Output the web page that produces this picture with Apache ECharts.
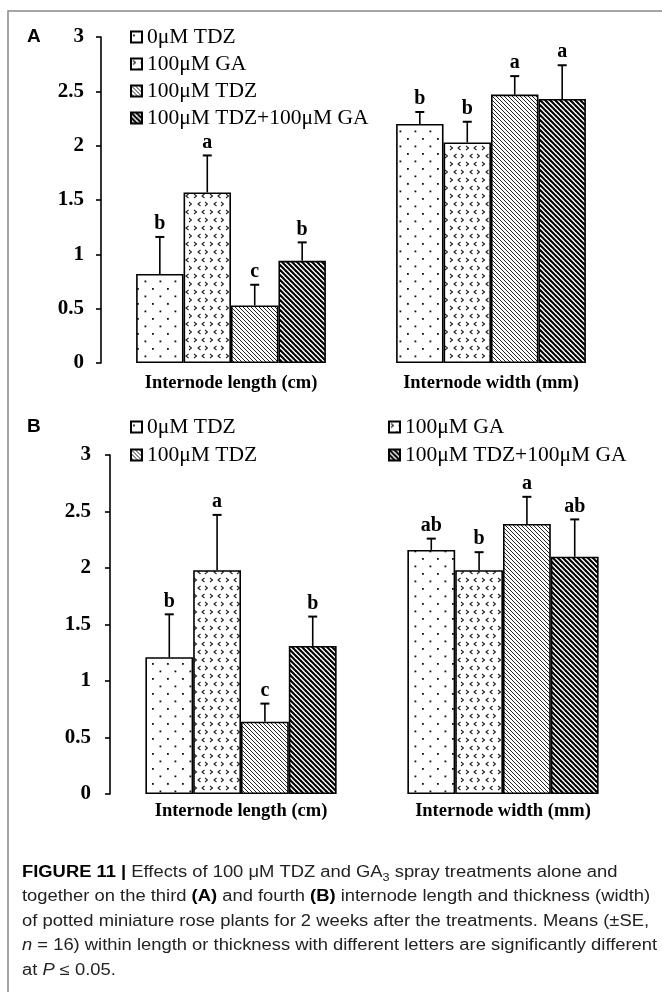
<!DOCTYPE html>
<html><head><meta charset="utf-8">
<script src="https://cdn.jsdelivr.net/npm/echarts@6/dist/echarts.min.js"></script>
<style>html,body{margin:0;padding:0;background:#fff}#c{width:662px;height:992px}</style>
</head><body><div id="c"></div>
<script>
// ---------------- DATA ----------------
const categories = ['Internode length (cm)', 'Internode width (mm)'];
const treatments = ['0μM TDZ', '100μM GA', '100μM TDZ', '100μM TDZ+100μM GA'];
// Panel A (third internode): per treatment [length, width]
const meanA = [[0.82, 2.20], [1.57, 2.03], [0.53, 2.47], [0.94, 2.43]];
const seA = [[0.34, 0.11], [0.34, 0.19], [0.19, 0.17], [0.17, 0.31]];
const letterA = [['b', 'b'], ['a', 'b'], ['c', 'a'], ['b', 'a']];
// Panel B (fourth internode)
const meanB = [[1.21, 2.16], [1.98, 1.98], [0.64, 2.39], [1.31, 2.10]];
const seB = [[0.38, 0.10], [0.49, 0.16], [0.16, 0.24], [0.26, 0.33]];
const letterB = [['b', 'ab'], ['a', 'b'], ['c', 'a'], ['b', 'ab']];
const yMin = 0, yMax = 3, yStep = 0.5;

// ---------------- PATTERNS ----------------
function mk(w, h, draw) {
  const c = document.createElement('canvas'); c.width = w; c.height = h;
  const g = c.getContext('2d'); g.fillStyle = '#fff'; g.fillRect(0, 0, w, h); draw(g); return c;
}
const patDots = mk(15, 15, g => {
  g.fillStyle = '#111';
  g.fillRect(2, 3, 1.8, 1.8); g.fillRect(9.5, 10.5, 1.8, 1.8);
});
const patChev = mk(16, 16, g => {
  g.strokeStyle = '#222'; g.lineWidth = 1.1;
  function lt(x, y) { g.beginPath(); g.moveTo(x + 2.5, y - 2); g.lineTo(x, y); g.lineTo(x + 2.5, y + 2); g.stroke(); }
  function gt(x, y) { g.beginPath(); g.moveTo(x, y - 2); g.lineTo(x + 2.5, y); g.lineTo(x, y + 2); g.stroke(); }
  gt(2, 4); lt(10, 4); lt(6, 12); gt(13, 12);
});
function diag(s, lw, col) {
  return mk(s, s, g => {
    g.strokeStyle = col; g.lineWidth = lw;
    [-s, 0, s].forEach(k => { g.beginPath(); g.moveTo(-1, -1 + k); g.lineTo(s + 1, s + 1 + k); g.stroke(); });
  });
}
const patFine = diag(4, 1, '#222');
const patDark = diag(5, 2.1, '#000');
const patterns = [patDots, patChev, patFine, patDark];

// ---------------- BUILD ----------------
const GAP = 0.27;
const serif = 'Liberation Serif';
function barSeries(means, gi) {
  return means.map((m, k) => ({
    name: treatments[k], type: 'bar', xAxisIndex: gi, yAxisIndex: gi,
    data: m, barGap: '0%', barCategoryGap: (GAP * 100) + '%',
    itemStyle: { color: { image: patterns[k], repeat: 'repeat' }, borderColor: '#000', borderWidth: 1.6 },
    emphasis: { disabled: true }, animation: false
  }));
}
function errSeries(means, ses, letters, gi) {
  const data = [], labs = [];
  means.forEach((m, k) => m.forEach((v, c) => { data.push([c, v, v + ses[k][c], k]); labs.push(letters[k][c]); }));
  return {
    type: 'custom', name: 'err' + gi, xAxisIndex: gi, yAxisIndex: gi, data: data, z: 5, animation: false,
    encode: { x: 0, y: [1, 2] }, silent: true,
    renderItem: function (params, api) {
      const c = api.value(0), v = api.value(1), t = api.value(2), k = api.value(3);
      const p0 = api.coord([c, v]); const p1 = api.coord([c, t]);
      const band = api.size([1, 0])[0];
      const bw = band * (1 - GAP) / 4;
      const x = p0[0] + (k - 1.5) * bw;
      return { type: 'group', children: [
        { type: 'line', shape: { x1: x, y1: p0[1], x2: x, y2: p1[1] }, style: { stroke: '#000', lineWidth: 1.6 } },
        { type: 'line', shape: { x1: x - 4.5, y1: p1[1], x2: x + 4.5, y2: p1[1] }, style: { stroke: '#000', lineWidth: 2 } },
        { type: 'text', x: x, y: p1[1] - 3, style: { text: labs[params.dataIndex], fill: '#000', font: 'bold 20px ' + serif, align: 'center', verticalAlign: 'bottom' } }
      ] };
    }
  };
}
function yAxis(gi, margin) {
  return {
    type: 'value', gridIndex: gi, min: yMin, max: yMax, interval: yStep,
    splitLine: { show: false },
    axisLine: { show: true, lineStyle: { color: '#000', width: 1.6 } },
    axisTick: { show: true, length: 5, lineStyle: { color: '#000', width: 1.6 } },
    axisLabel: { color: '#000', fontFamily: serif, fontWeight: 'bold', fontSize: 21, margin: margin }
  };
}
function xAxis(gi, margin) {
  return {
    type: 'category', gridIndex: gi, data: categories,
    axisLine: { show: false }, axisTick: { show: false },
    axisLabel: { color: '#000', fontFamily: serif, fontWeight: 'bold', fontSize: 18.5, margin: margin }
  };
}
const legendText = { color: '#000', fontFamily: serif, fontSize: 21.5 };
const legendBase = { orient: 'vertical', icon: 'rect', itemWidth: 11, itemHeight: 11, textStyle: legendText, selectedMode: false, padding: 0 };

// caption
const capFont = 'Liberation Sans';
const capLines = [
  '{b|FIGURE 11 |} Effects of 100 μM TDZ and GA{s|3} spray treatments alone and',
  'together on the third {b|(A)} and fourth {b|(B)} internode length and thickness (width)',
  'of potted miniature rose plants for 2 weeks after the treatments. Means (±SE,',
  '{i|n} = 16) within length or thickness with different letters are significantly different',
  'at {i|P} ≤ 0.05.'
];
const mctx = document.createElement('canvas').getContext('2d');
mctx.font = '16px ' + capFont;
const natW = mctx.measureText('of potted miniature rose plants for 2 weeks after the treatments. Means (±SE,').width;
const capScale = 627 / natW;
const capGraphics = capLines.map((t, i) => ({
  type: 'text', left: 22, top: 862 + i * 24.4, scaleX: capScale, originX: 0,
  style: { text: t, fill: '#222', font: '16px ' + capFont, lineHeight: 21,
    rich: { b: { fontWeight: 'bold', fill: '#000', fontSize: 16, fontFamily: capFont },
            s: { fontSize: 11, verticalAlign: 'bottom', fontFamily: capFont, fill: '#222' },
            i: { fontStyle: 'italic', fontSize: 16, fontFamily: capFont, fill: '#222' } } }
}));

const option = {
  backgroundColor: '#fff',
  animation: false,
  grid: [
    { left: 101, top: 37, width: 520, height: 326 },
    { left: 110, top: 455, width: 524, height: 339 }
  ],
  xAxis: [xAxis(0, 11), xAxis(1, 8)],
  yAxis: [yAxis(0, 17), yAxis(1, 19)],
  legend: [
    Object.assign({}, legendBase, { left: 130, top: 26, itemGap: 5, data: treatments }),
    Object.assign({}, legendBase, { left: 130, top: 416, itemGap: 6, data: [treatments[0], treatments[2]] }),
    Object.assign({}, legendBase, { left: 388, top: 416, itemGap: 6, data: [treatments[1], treatments[3]] })
  ],
  series: [].concat(barSeries(meanA, 0), barSeries(meanB, 1), [errSeries(meanA, seA, letterA, 0), errSeries(meanB, seB, letterB, 1)]),
  graphic: [
    { type: 'rect', shape: { x: 8, y: 11, width: 700, height: 1000 }, style: { fill: 'none', stroke: '#888', lineWidth: 1.5 }, silent: true },
    { type: 'text', left: 27, top: 27, style: { text: 'A', font: 'bold 19px Liberation Sans', fill: '#000' } },
    { type: 'text', left: 27, top: 417, style: { text: 'B', font: 'bold 19px Liberation Sans', fill: '#000' } }
  ].concat(capGraphics)
};
const chart = echarts.init(document.getElementById('c'), null, { renderer: 'canvas' });
chart.setOption(option);
</script></body></html>
